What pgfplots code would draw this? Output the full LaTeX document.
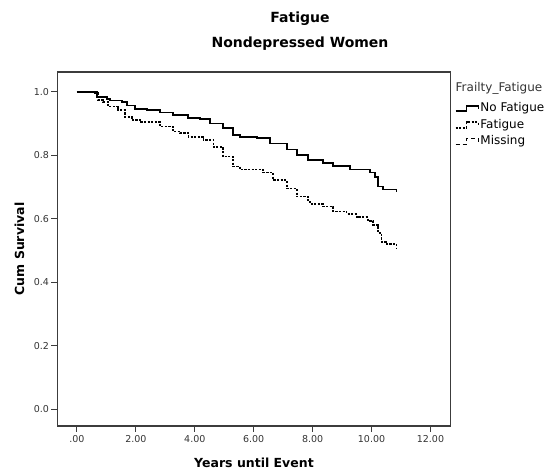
\documentclass[border=0pt]{standalone}
\usepackage{fontspec}
\setmainfont{DejaVu Sans}
\usepackage{pgfplots}
\pgfplotsset{compat=1.18}
\definecolor{axisgray}{HTML}{3C3C3C}
\definecolor{ticktext}{HTML}{333333}

\begin{document}
\begin{tikzpicture}
\path[use as bounding box] (-57.5pt,-50pt) rectangle (491.5pt,426pt);
\begin{axis}[
  scale only axis,
  width=393pt, height=354pt,
  xmin=-0.66, xmax=12.68,
  ymin=-0.053, ymax=1.063,
  axis line style={axisgray, line width=1.1pt},
  tick style={axisgray, line width=1pt},
  tick align=outside,
  xtick pos=bottom, ytick pos=left,
  major tick length=6pt,
  xtick={0,2,4,6,8,10,12},
  xticklabels={.00,2.00,4.00,6.00,8.00,10.00,12.00},
  ytick={0,0.2,0.4,0.6,0.8,1},
  /pgf/number format/assume math mode=true,
  yticklabel style={/pgf/number format/fixed, /pgf/number format/fixed zerofill,
    /pgf/number format/precision=1, xshift=1pt},
  ticklabel style={font=\fontsize{9.5}{11}\selectfont, text=ticktext},
  xlabel={Years until Event},
  ylabel={Cum Survival},
  every axis x label/.style={at={(axis description cs:0.5,0)}, anchor=center, yshift=-37pt,
    font=\bfseries\fontsize{12.5}{14}\selectfont},
  every axis y label/.style={at={(axis description cs:-0.0967,0.5)}, anchor=center, rotate=90,
    font=\bfseries\fontsize{12.5}{14}\selectfont},
  legend style={at={(1,0.9166)}, anchor=north west, xshift=4pt, draw=none, fill=none,
    font=\fontsize{12}{14}\selectfont, inner sep=0pt, row sep=2.5pt,
    nodes={text height=9pt, text depth=3pt, inner sep=1pt}},
  legend cell align=left,
  legend image code/.code={\draw[#1] (0pt,-2.5pt) -- (11pt,-2.5pt) -- (11pt,3pt) -- (23pt,3pt) -- (23pt,-0.5pt);},
]
\addplot[const plot, black, line width=1.7pt] coordinates {
(0,1.0) (0.55,1.0) (0.67,0.985) (1.01,0.978) (1.12,0.973) (1.52,0.968)
(1.69,0.957) (1.97,0.946) (2.37,0.943) (2.82,0.935) (3.27,0.927) (3.78,0.919)
(4.17,0.914) (4.51,0.901) (4.96,0.886) (5.30,0.864) (5.53,0.857) (6.10,0.854)
(6.55,0.838) (7.12,0.819) (7.46,0.801) (7.85,0.786) (8.36,0.777) (8.70,0.767)
(9.26,0.756) (9.94,0.746) (10.11,0.733) (10.22,0.702) (10.39,0.693) (10.85,0.684)
};
\addlegendentry{No Fatigue}
\addplot[const plot, black, line width=1.6pt, dash pattern=on 2.2pt off 1.4pt] coordinates {
(0,1.0) (0.55,0.996) (0.72,0.975) (0.89,0.969) (1.06,0.954) (1.40,0.943)
(1.63,0.922) (1.86,0.912) (2.14,0.905) (2.82,0.891) (3.27,0.875) (3.50,0.870)
(3.78,0.859) (4.29,0.849) (4.63,0.826) (4.96,0.796) (5.30,0.765) (5.53,0.756)
(6.32,0.746) (6.66,0.723) (7.12,0.696) (7.46,0.670) (7.85,0.654) (7.91,0.647)
(8.36,0.639) (8.70,0.623) (9.15,0.616) (9.49,0.605) (9.88,0.594) (10.05,0.581)
(10.22,0.555) (10.34,0.528) (10.51,0.521) (10.85,0.507)
};
\addlegendentry{Fatigue}
\addlegendimage{black, line width=1.2pt, dash pattern=on 4pt off 3pt}
\addlegendentry{Missing}
\end{axis}
\node[font=\bfseries\fontsize{14}{16}\selectfont] at (242.5pt,407pt) {Fatigue};
\node[font=\bfseries\fontsize{14}{16}\selectfont] at (242.5pt,382pt) {Nondepressed Women};
\node[anchor=west, font=\fontsize{12}{14}\selectfont, text=ticktext, inner sep=0pt] at (398pt,338pt) {Frailty\_Fatigue};
\end{tikzpicture}
\end{document}
